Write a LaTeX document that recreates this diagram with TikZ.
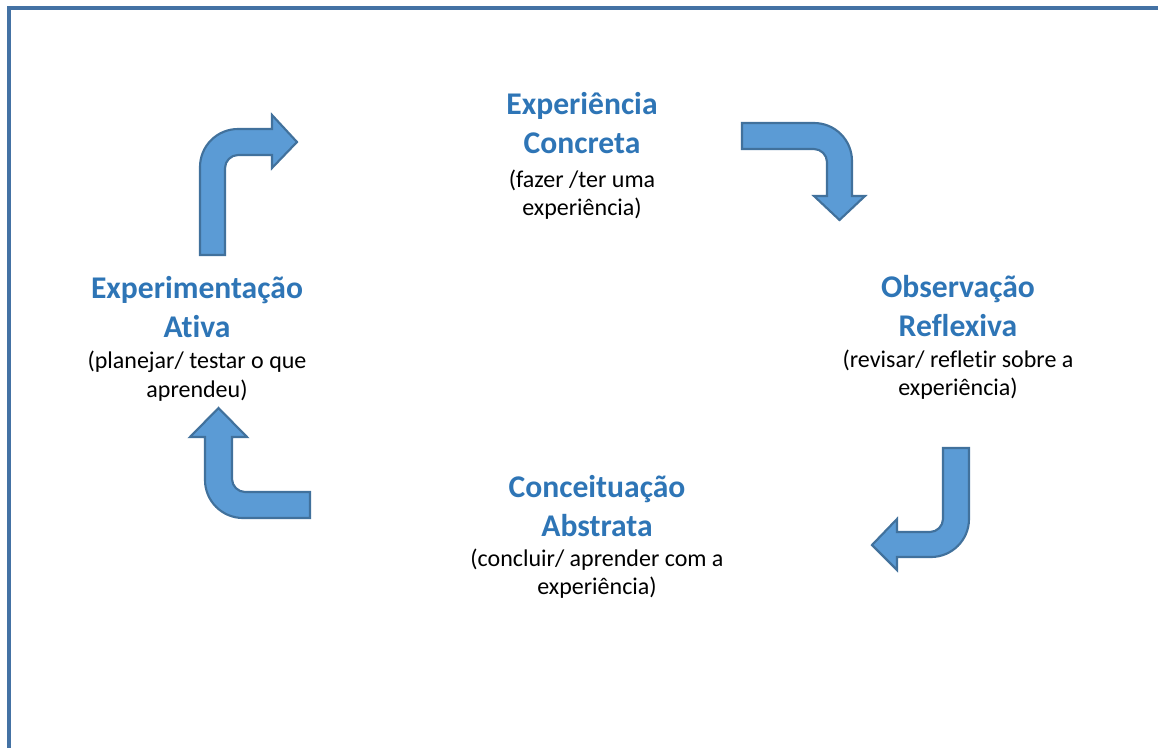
\documentclass[tikz,border=0pt]{standalone}
\usepackage{fontspec}
\setmainfont{Carlito}[Ligatures={NoCommon}]
\definecolor{titleblue}{HTML}{2E75B6}
\definecolor{arrowfill}{HTML}{5B9BD5}
\definecolor{arrowline}{HTML}{41719C}
\definecolor{framecol}{HTML}{4472A4}
\begin{document}
\begin{tikzpicture}[x=0.75pt,y=-0.75pt,
  titletxt/.style={anchor=base,inner sep=0pt,text=titleblue,font=\fontsize{23.7}{28}\selectfont\bfseries},
  subtxt/.style={anchor=base,inner sep=0pt,text=black,font=\fontsize{18}{21}\selectfont},
  bentarrow/.style={fill=arrowfill,draw=arrowline,line width=1.6pt,line join=miter}]
\useasboundingbox (0,0) rectangle (1158,747);
% frame
\draw[framecol,line width=2.4pt] (9,760) -- (9,8) -- (1170,8);
% arrow top-left (up then right)
\draw[bentarrow] (200,255) -- (200,167) .. controls (200,146) and (217,129) .. (238,129)
  -- (272,129) -- (272,115) -- (297,142) -- (272,168) -- (272,155) -- (238,155)
  .. controls (231,155) and (225,161) .. (225,168) -- (225,255) -- cycle;
% arrow top-right (right then down)
\draw[bentarrow] (742,123) -- (814,123) .. controls (835,123) and (852,140) .. (852,161)
  -- (852,196) -- (865,196) -- (839.5,220) -- (814,196) -- (827,196) -- (827,162)
  .. controls (827,155) and (821,149) .. (814,149) -- (742,149) -- cycle;
% arrow bottom-right (down then left)
\draw[bentarrow] (943,448) -- (969,448) -- (969,519) .. controls (969,540) and (952,557) .. (931,557)
  -- (897,557) -- (897,570) -- (872,545) -- (897,519) -- (897,532) -- (930,532)
  .. controls (937,532) and (943,526) .. (943,519) -- cycle;
% arrow bottom-left (left then up)
\draw[bentarrow] (310,492) -- (310,518) -- (243,518) .. controls (222,518) and (205,501) .. (205,480)
  -- (205,437) -- (190,437) -- (218.5,408) -- (247,437) -- (232,437) -- (232,479)
  .. controls (232,486) and (238,492) .. (245,492) -- cycle;
% Experiencia Concreta
\node[titletxt] (ec1) at (582,114) {Experiência};
\node[titletxt] (ec2) at (582,153) {Concreta};
\node[subtxt] (ec3) at (582,187) {(fazer /ter uma};
\node[subtxt] (ec4) at (582,215) {experiência)};
% Observacao Reflexiva
\node[titletxt] (or1) at (958,297) {Observação};
\node[titletxt] (or2) at (958,336) {Reflexiva};
\node[subtxt] (or3) at (958,367) {(revisar/ refletir sobre a};
\node[subtxt] (or4) at (958,395) {experiência)};
% Conceituacao Abstrata
\node[titletxt] (ca1) at (597,497) {Conceituação};
\node[titletxt] (ca2) at (597,536) {Abstrata};
\node[subtxt] (ca3) at (597,566) {(concluir/ aprender com a};
\node[subtxt] (ca4) at (597,594) {experiência)};
% Experimentacao Ativa
\node[titletxt] (ea1) at (197,298) {Experimentação};
\node[titletxt] (ea2) at (197,337) {Ativa};
\node[subtxt] (ea3) at (197,368) {(planejar/ testar o que};
\node[subtxt] (ea4) at (197,397) {aprendeu)};
\end{tikzpicture}
\end{document}
